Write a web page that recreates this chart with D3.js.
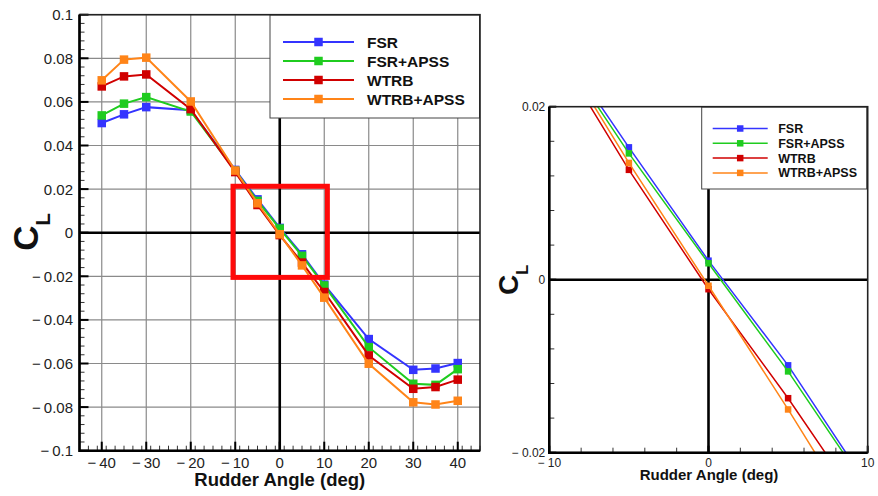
<!DOCTYPE html>
<html lang="en">
<head>
<meta charset="UTF-8">
<title>Lift coefficient vs rudder angle</title>
<script src="https://d3js.org/d3.v7.min.js"></script>
<style>
  body { margin: 0; background: #fff; }
  svg { font-family: Arial, "Liberation Sans", sans-serif; }
  .lbl { font-weight: bold; fill: #111; }
</style>
</head>
<body>
<div id="chart"></div>
<script>
// rudder angle (deg)
const angles = [-40, -35, -30, -20, -10, -5, 0, 5, 10, 20, 30, 35, 40];

// lift coefficient C_L for each configuration
const fsr      = [0.0503, 0.0543, 0.0576, 0.0562, 0.0288, 0.0153, 0.0022, -0.0099, -0.0238, -0.0488, -0.0629, -0.0623, -0.0598];
const fsrApss  = [0.0538, 0.0592, 0.0622, 0.0556, 0.0284, 0.0146, 0.0019, -0.0106, -0.0242, -0.0525, -0.0693, -0.0698, -0.0626];
const wtrb     = [0.0671, 0.0717, 0.0726, 0.0567, 0.0278, 0.0127, -0.0011, -0.0137, -0.0272, -0.0563, -0.0716, -0.0708, -0.0674];
const wtrbApss = [0.0699, 0.0794, 0.0803, 0.0602, 0.0285, 0.0135, -0.0007, -0.0150, -0.0298, -0.0601, -0.0778, -0.0788, -0.0771];

const seriesNames = ["FSR", "FSR+APSS", "WTRB", "WTRB+APSS"];
const seriesValues = [fsr, fsrApss, wtrb, wtrbApss];
const colors = ["#3434ff", "#1fcc1f", "#d00000", "#ff8418"];

// tick values
const mainXTicks = [-40, -30, -20, -10, 0, 10, 20, 30, 40];
const mainYTicks = [0.1, 0.08, 0.06, 0.04, 0.02, 0, -0.02, -0.04, -0.06, -0.08, -0.1];
const zoomXTicks = [-10, 0, 10];
const zoomYTicks = [0.02, 0, -0.02];

// region highlighted on the main plot (deg, C_L)
const zoomRegionX = [-10.5, 10.7];
const zoomRegionY = [-0.0205, 0.0213];

const W = 878, H = 496;
const svg = d3.select("#chart").append("svg")
  .attr("width", W).attr("height", H);
svg.append("rect").attr("width", W).attr("height", H).attr("fill", "#fff");

const series = seriesNames.map((name, i) => ({
  name, color: colors[i],
  points: angles.map((a, j) => ({ x: a, y: seriesValues[i][j] }))
}));

const fmtNum = d3.format(".2~f");

function drawPanel(o) {
  const g = svg.append("g");
  const x = d3.scaleLinear().domain(o.xDomain).range([o.left, o.right]);
  const y = d3.scaleLinear().domain(o.yDomain).range([o.bottom, o.top]);

  // grid
  if (o.grid) {
    g.append("g").selectAll("line").data(o.xTicks).join("line")
      .attr("x1", d => x(d)).attr("x2", d => x(d))
      .attr("y1", o.top).attr("y2", o.bottom)
      .attr("stroke", "#8a8a8a").attr("stroke-width", 1.2);
    g.append("g").selectAll("line").data(o.yTicks).join("line")
      .attr("y1", d => y(d)).attr("y2", d => y(d))
      .attr("x1", o.left).attr("x2", o.right)
      .attr("stroke", "#8a8a8a").attr("stroke-width", 1.2);
  }

  // zero lines
  g.append("line").attr("x1", x(0)).attr("x2", x(0)).attr("y1", o.top).attr("y2", o.bottom)
    .attr("stroke", "#000").attr("stroke-width", 2.6);
  g.append("line").attr("y1", y(0)).attr("y2", y(0)).attr("x1", o.left).attr("x2", o.right)
    .attr("stroke", "#000").attr("stroke-width", 2.6);

  // minor / major ticks pointing inward
  const xMinor = d3.range(o.xDomain[0], o.xDomain[1] + 1e-9, o.xMinorStep)
    .filter(v => v >= o.xDomain[0] && v <= o.xDomain[1]);
  const yMinor = d3.range(o.yDomain[0], o.yDomain[1] + 1e-9, o.yMinorStep);
  g.append("g").selectAll("line").data(xMinor).join("line")
    .attr("x1", d => x(d)).attr("x2", d => x(d))
    .attr("y1", o.bottom).attr("y2", o.bottom - o.minorLen)
    .attr("stroke", "#333").attr("stroke-width", 1);
  g.append("g").selectAll("line").data(yMinor).join("line")
    .attr("y1", d => y(d)).attr("y2", d => y(d))
    .attr("x1", o.left).attr("x2", o.left + o.minorLen)
    .attr("stroke", "#333").attr("stroke-width", 1);
  g.append("g").selectAll("line").data(o.xTicks).join("line")
    .attr("x1", d => x(d)).attr("x2", d => x(d))
    .attr("y1", o.bottom).attr("y2", o.bottom - o.majorLen)
    .attr("stroke", "#000").attr("stroke-width", 2);
  g.append("g").selectAll("line").data(o.yTicks).join("line")
    .attr("y1", d => y(d)).attr("y2", d => y(d))
    .attr("x1", o.left).attr("x2", o.left + o.majorLen)
    .attr("stroke", "#000").attr("stroke-width", 2);

  // legend box (sits over grid and zero line)
  const L = o.legend;
  g.append("rect").attr("x", L.x).attr("y", L.y).attr("width", L.w).attr("height", L.h)
    .attr("fill", "#fff").attr("stroke", "#444").attr("stroke-width", 1);
  series.forEach((s, i) => {
    const ly = L.y + L.first + i * L.step;
    g.append("line").attr("x1", L.x + L.lineX0).attr("x2", L.x + L.lineX1)
      .attr("y1", ly).attr("y2", ly).attr("stroke", s.color).attr("stroke-width", o.lineW);
    const mx = L.x + (L.lineX0 + L.lineX1) / 2;
    g.append("rect").attr("x", mx - o.marker / 2).attr("y", ly - o.marker / 2)
      .attr("width", o.marker).attr("height", o.marker).attr("fill", s.color);
    g.append("text").attr("class", "lbl").attr("x", L.x + L.textX).attr("y", ly)
      .attr("dy", "0.36em").attr("font-size", L.font).text(s.name);
  });

  // data lines and markers, clipped to the plot area
  const clipId = "clip" + o.id;
  svg.append("clipPath").attr("id", clipId).append("rect")
    .attr("x", o.left).attr("y", o.top)
    .attr("width", o.right - o.left).attr("height", o.bottom - o.top);
  const plot = g.append("g").attr("clip-path", `url(#${clipId})`);
  const line = d3.line().x(d => x(d.x)).y(d => y(d.y));
  series.forEach(s => {
    plot.append("path").datum(s.points).attr("d", line)
      .attr("fill", "none").attr("stroke", s.color).attr("stroke-width", o.lineW);
    plot.append("g").selectAll("rect").data(s.points).join("rect")
      .attr("x", d => x(d.x) - o.marker / 2).attr("y", d => y(d.y) - o.marker / 2)
      .attr("width", o.marker).attr("height", o.marker).attr("fill", s.color);
  });

  // frame
  g.append("rect").attr("x", o.left).attr("y", o.top)
    .attr("width", o.right - o.left).attr("height", o.bottom - o.top)
    .attr("fill", "none").attr("stroke", "#222").attr("stroke-width", 1.6);
  g.append("path")
    .attr("d", `M${o.left},${o.top}V${o.bottom}H${o.right}`)
    .attr("fill", "none").attr("stroke", "#000").attr("stroke-width", 2.6);

  // tick labels
  g.append("g").selectAll("text").data(o.xTicks).join("text")
    .attr("x", d => x(d)).attr("y", o.bottom + o.xLabelOff)
    .attr("text-anchor", "middle").attr("font-size", o.tickFont).attr("fill", "#222")
    .text(d => (d < 0 ? o.minus : "") + Math.abs(d));
  g.append("g").selectAll("text").data(o.yTicks).join("text")
    .attr("x", o.left - o.yLabelOff).attr("y", d => y(d)).attr("dy", "0.36em")
    .attr("text-anchor", "end").attr("font-size", o.tickFont).attr("fill", "#222")
    .text(d => (d < 0 ? o.minus : "") + fmtNum(Math.abs(d)));

  // axis titles
  g.append("text").attr("class", "lbl")
    .attr("x", (o.left + o.right) / 2 + o.xTitleDx).attr("y", o.xTitleY)
    .attr("text-anchor", "middle").attr("font-size", o.xTitleFont)
    .text("Rudder Angle (deg)");
  const yt = g.append("text").attr("class", "lbl")
    .attr("transform", `translate(${o.yTitleX},${o.yTitleY}) rotate(-90)`)
    .attr("text-anchor", "middle").attr("font-size", o.yTitleFont);
  yt.append("tspan").text("C");
  yt.append("tspan").attr("font-size", o.yTitleFont * 0.58).attr("dy", o.yTitleFont * 0.34).text("L");

  return { x, y, g };
}

// main panel
const main = drawPanel({
  id: "main", left: 79.5, right: 480, top: 14.7, bottom: 450.7,
  xDomain: [-45, 45], yDomain: [-0.1, 0.1],
  xTicks: mainXTicks, yTicks: mainYTicks, xMinorStep: 2, yMinorStep: 0.004,
  grid: true, majorLen: 9, minorLen: 5, lineW: 2, marker: 8.5,
  tickFont: 15, minus: "\u2212\u2009", xLabelOff: 17.5, yLabelOff: 6.5,
  xTitleY: 486, xTitleDx: 0, xTitleFont: 18.5,
  yTitleX: 38, yTitleY: 232, yTitleFont: 35,
  legend: { x: 270, y: 15, w: 209.5, h: 103, first: 27, step: 19,
            lineX0: 13, lineX1: 84, textX: 97, font: 15.5 }
});

// highlighted region on main panel
main.g.append("rect")
  .attr("x", main.x(zoomRegionX[0])).attr("y", main.y(zoomRegionY[1]))
  .attr("width", main.x(zoomRegionX[1]) - main.x(zoomRegionX[0]))
  .attr("height", main.y(zoomRegionY[0]) - main.y(zoomRegionY[1]))
  .attr("fill", "none").attr("stroke", "#ff0a0a").attr("stroke-width", 5);

// zoomed panel
drawPanel({
  id: "zoom", left: 549.3, right: 867.7, top: 106.7, bottom: 452.7,
  xDomain: [-10, 10], yDomain: [-0.02, 0.02],
  xTicks: zoomXTicks, yTicks: zoomYTicks, xMinorStep: 2, yMinorStep: 0.004,
  grid: false, majorLen: 7, minorLen: 5, lineW: 1.5, marker: 6.5,
  tickFont: 12, minus: "\u2212 ", xLabelOff: 14, yLabelOff: 4,
  xTitleY: 480, xTitleDx: 0.5, xTitleFont: 15,
  yTitleX: 518, yTitleY: 280, yTitleFont: 28,
  legend: { x: 701.7, y: 107, w: 165, h: 82, first: 21.5, step: 14.8,
            lineX0: 11, lineX1: 66, textX: 76.5, font: 12.5 }
});
</script>
</body>
</html>
